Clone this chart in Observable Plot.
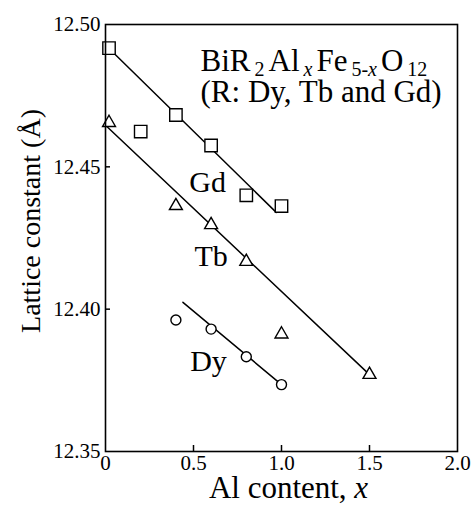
<!DOCTYPE html>
<html>
<head>
<meta charset="utf-8">
<script src="https://cdn.jsdelivr.net/npm/d3@7"></script>
<script src="https://cdn.jsdelivr.net/npm/@observablehq/plot@0.6"></script>
<style>
  html, body { margin: 0; padding: 0; background: #fff; }
  #chart { width: 472px; height: 513px; }
  #chart svg text { font-family: 'Liberation Serif', 'Times New Roman', Times, serif !important; }
</style>
</head>
<body>
<div id="chart"></div>
<script>
// ---- data ----
const gdX = [0.02, 0.2, 0.4, 0.6, 0.8, 1.0];
const gdY = [12.4917, 12.4624, 12.4682, 12.4575, 12.4400, 12.4362];
const tbX = [0.02, 0.4, 0.6, 0.8, 1.0, 1.5];
const tbY = [12.4655, 12.4363, 12.4296, 12.4167, 12.3912, 12.3770];
const dyX = [0.4, 0.6, 0.8, 1.0];
const dyY = [12.3962, 12.3930, 12.3833, 12.3735];

// fitted lines (end points)
const gdFitX = [0, 0.97];
const gdFitY = [12.4928, 12.4340];
const tbFitX = [0, 1.5];
const tbFitY = [12.4646, 12.3770];
const dyFitX = [0.44, 1.0];
const dyFitY = [12.4024, 12.3735];

// series labels
const seriesNames = ["Gd", "Tb", "Dy"];
const seriesLabelX = [0.58, 0.60, 0.585];
const seriesLabelY = [12.4413, 12.4153, 12.3784];

// formula annotation
const noteLines = ["BiR_{2}Al_{*x*}Fe_{5-*x*}O_{12}", "(R: Dy, Tb and Gd)"];
const noteX = [0.54, 0.54];
const noteY = [12.4838, 12.4726];

// axes
const xTicks = [0, 0.5, 1.0, 1.5, 2.0];
const yTicks = [12.35, 12.40, 12.45, 12.50];
const xInnerTicks = [0.5, 1.0, 1.5];
const yInnerTicks = [12.40, 12.45];
const xLabel = "Al content, *x*";
const yLabel = "Lattice constant (Å)";

const pts = (xs, ys) => xs.map((x, i) => ({x, y: ys[i]}));
const gd = pts(gdX, gdY), tb = pts(tbX, tbY), dy = pts(dyX, dyY);
const gdFit = pts(gdFitX, gdFitY), tbFit = pts(tbFitX, tbFitY), dyFit = pts(dyFitX, dyFitY);
const seriesLabels = seriesNames.map((t, i) => ({t, x: seriesLabelX[i], y: seriesLabelY[i]}));
const notes = noteLines.map((t, i) => ({t, x: noteX[i], y: noteY[i]}));

const W = 472, H = 513, mL = 105, mR = 15, mT = 24, mB = 62;
const serif = "'Liberation Serif', 'Times New Roman', Times, serif";

const lineStyle = {x: "x", y: "y", stroke: "black", strokeWidth: 1.5};
const dotStyle = {x: "x", y: "y", stroke: "black", fill: "white", strokeWidth: 1.4};

const chart = Plot.plot({
  width: W, height: H,
  marginLeft: mL, marginRight: mR, marginTop: mT, marginBottom: mB,
  style: {fontFamily: serif, fontSize: "21px", color: "black", background: "white", overflow: "visible"},
  x: {domain: [0, 2], ticks: xTicks, tickFormat: d => d === 0 ? "0" : d.toFixed(1), tickSize: 0, tickPadding: 4, label: null},
  y: {domain: [12.35, 12.50], ticks: yTicks, tickFormat: d => d.toFixed(2), tickSize: 0, tickPadding: 5, label: null},
  marks: [
    Plot.line(gdFit, lineStyle),
    Plot.line(tbFit, lineStyle),
    Plot.line(dyFit, lineStyle),
    Plot.dot(gd, {...dotStyle, symbol: "square", r: 7}),
    Plot.dot(tb, {...dotStyle, symbol: "triangle", r: 4.8}),
    Plot.dot(dy, {...dotStyle, symbol: "circle", r: 5}),
    Plot.tickX(xInnerTicks, {x: d => d, insetTop: H - mT - mB - 6, stroke: "black", strokeWidth: 1.5}),
    Plot.tickY(yInnerTicks, {y: d => d, insetRight: W - mL - mR - 5, stroke: "black", strokeWidth: 1.5}),
    Plot.frame({stroke: "black", strokeWidth: 1.6}),
    Plot.text(seriesLabels, {x: "x", y: "y", text: "t", fontSize: 30, lineAnchor: "bottom", textAnchor: "middle", fill: "black"}),
    Plot.text(notes, {x: "x", y: "y", text: "t", fontSize: 31, lineAnchor: "bottom", textAnchor: "start", fill: "black"}),
    Plot.text([xLabel], {text: d => d, frameAnchor: "bottom", textAnchor: "middle", dx: 7, dy: 46, lineAnchor: "bottom", fontSize: 31, fill: "black"}),
    Plot.text([yLabel], {text: d => d, frameAnchor: "left", textAnchor: "middle", rotate: -90, dx: -74, dy: -17, lineAnchor: "middle", fontSize: 28, fill: "black"})
  ]
});

// rich text: _{...} = subscript, *...* = italic
function segments(src) {
  const out = [];
  let sub = false, it = false, buf = "";
  const flush = () => { if (buf) out.push({text: buf, sub, it}); buf = ""; };
  for (let i = 0; i < src.length; i++) {
    const c = src[i];
    if (c === "_" && src[i + 1] === "{") { flush(); sub = true; i++; }
    else if (c === "}" && sub) { flush(); sub = false; }
    else if (c === "*") { flush(); it = !it; }
    else buf += c;
  }
  flush();
  return out;
}
d3.select(chart).selectAll("text").each(function() {
  const src = this.textContent;
  if (!/_\{|\*/.test(src)) return;
  const fs = parseFloat(this.getAttribute("font-size")) || 29;
  const shift = Math.round(fs * 0.18);
  const gap = Math.round(fs * 0.13);
  this.textContent = "";
  let inSub = false;
  for (const s of segments(src)) {
    const t = d3.select(this).append("tspan").text(s.text);
    if (s.sub && !inSub) t.attr("dy", shift).attr("dx", gap);
    if (!s.sub && inSub) t.attr("dy", -shift).attr("dx", gap);
    if (s.sub) t.attr("font-size", Math.round(fs * 0.7));
    if (s.it) t.attr("font-style", "italic");
    inSub = s.sub;
  }
});

document.getElementById("chart").appendChild(chart);
</script>
</body>
</html>
